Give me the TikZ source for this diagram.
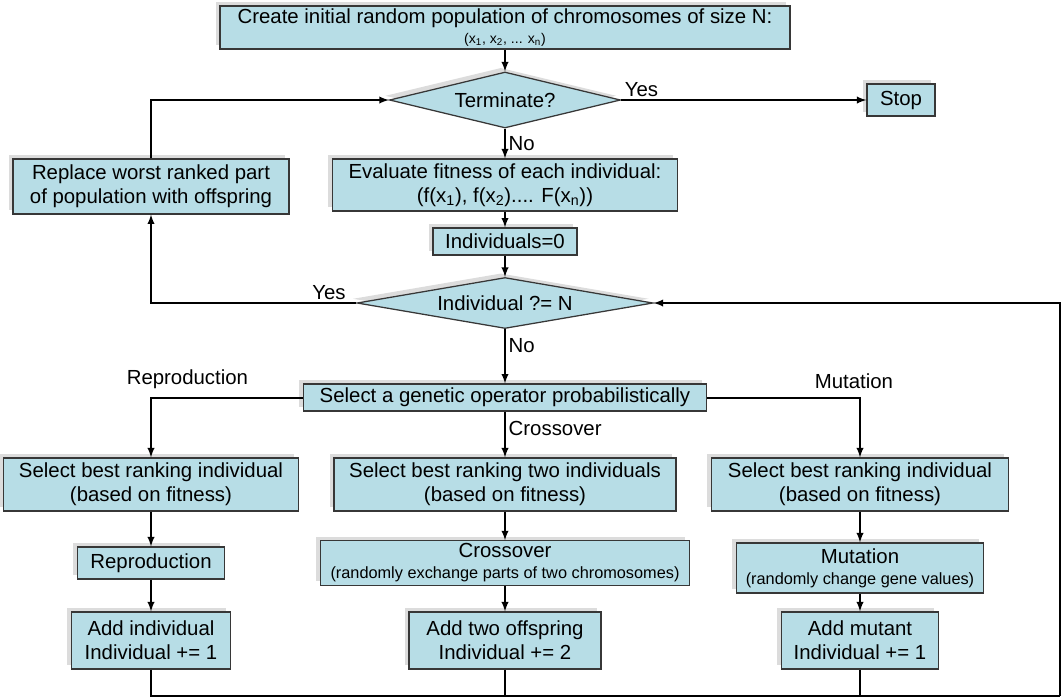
\documentclass[tikz,border=0pt]{standalone}
\usepackage{fontspec}
\setmainfont{Liberation Sans}
\usepackage{tikz}
\usetikzlibrary{arrows,shapes.geometric,shadows}
\definecolor{gafill}{RGB}{183,221,230}
\definecolor{gaedge}{RGB}{55,55,55}

\begin{document}
\begin{tikzpicture}[>=latex,
	  process/.style={draw=gaedge,fill=gafill,line width=0.9pt,align=center,inner sep=2pt,
	    font=\fontsize{14.5}{17}\selectfont,
	    drop shadow={shadow xshift=-3pt,shadow yshift=3pt,fill=black!30,opacity=0.45}},
	  decision/.style={process,diamond,aspect=4,inner sep=0pt},
	  arrowline/.style={line width=1.3pt,->},
	  edgelabel/.style={font=\fontsize{14.5}{17}\selectfont,inner sep=2pt},
	  ]
	  \path[use as bounding box] (0,0) rectangle (26.55,-17.45);
	  % main column
	  \node[process,minimum width=14.25cm,minimum height=1.075cm] (init) at (12.625,-0.69)
	    {Create initial random population of chromosomes of size N:\\[-3pt]
	     {\fontsize{10}{11}\selectfont (x\textsubscript{1}, x\textsubscript{2}, ... x\textsubscript{n})}};
	  \node[decision,minimum width=5.775cm,minimum height=1.4cm] (term) at (12.625,-2.5) {Terminate?};
	  \node[process,minimum width=1.7cm,minimum height=0.8cm] (stop) at (22.525,-2.5) {Stop};
	  \node[process,minimum width=6.9cm,minimum height=1.375cm] (replace) at (3.775,-4.66)
	    {Replace worst ranked part\\of population with offspring};
	  \node[process,minimum width=8.625cm,minimum height=1.3cm] (eval) at (12.625,-4.625)
	    {Evaluate fitness of each individual:\\(f(x\textsubscript{1}), f(x\textsubscript{2}).... F(x\textsubscript{n}))};
	  \node[process,minimum width=3.6cm,minimum height=0.675cm] (zero) at (12.625,-6.04) {Individuals=0};
	  \node[decision,aspect=6,minimum width=7.4cm,minimum height=1.275cm] (check) at (12.625,-7.575) {Individual ?= N};
	  \node[process,minimum width=10.075cm,minimum height=0.675cm] (oper) at (12.625,-9.94)
	    {Select a genetic operator probabilistically};
	  % three operators
	  \node[process,minimum width=7.375cm,minimum height=1.325cm] (selL) at (3.775,-12.1125)
	    {Select best ranking individual\\(based on fitness)};
	  \node[process,minimum width=8.55cm,minimum height=1.325cm] (selM) at (12.625,-12.1125)
	    {Select best ranking two individuals\\(based on fitness)};
	  \node[process,minimum width=7.425cm,minimum height=1.325cm] (selR) at (21.5,-12.1125)
	    {Select best ranking individual\\(based on fitness)};
	  \node[process,minimum width=3.675cm,minimum height=0.8cm] (repro) at (3.775,-14.075) {Reproduction};
	  \node[process,minimum width=9.225cm,minimum height=1.1cm] (cross) at (12.625,-14.075)
	    {Crossover\\[-2pt]{\fontsize{11.6}{12.5}\selectfont (randomly exchange parts of two chromosomes)}};
	  \node[process,minimum width=6.175cm,minimum height=1.25cm] (mut) at (21.5,-14.2)
	    {Mutation\\[-2pt]{\fontsize{11.6}{12.5}\selectfont (randomly change gene values)}};
	  \node[process,minimum width=3.975cm,minimum height=1.425cm] (addL) at (3.775,-16.0125)
	    {Add individual\\Individual += 1};
	  \node[process,minimum width=4.8cm,minimum height=1.425cm] (addM) at (12.625,-16.0125)
	    {Add two offspring\\Individual += 2};
	  \node[process,minimum width=3.925cm,minimum height=1.425cm] (addR) at (21.5,-16.0125)
	    {Add mutant\\Individual += 1};
	  \coordinate (loopend) at (26.5,-17.4);
	  % connectors
	  \draw[arrowline] (init) -- (term);
	  \draw[arrowline] (term) -- node[edgelabel,pos=0,anchor=south west]{Yes} (stop);
	  \draw[arrowline] (term) -- node[edgelabel,right]{No} (eval);
	  \draw[arrowline] (eval) -- (zero);
	  \draw[arrowline] (zero) -- (check);
	  \draw[arrowline] (check) -| node[edgelabel,pos=0,anchor=south east,xshift=-5pt]{Yes} (replace);
	  \draw[arrowline] (replace) |- (term);
	  \draw[arrowline] (check) -- node[edgelabel,right,pos=0.3]{No} (oper);
	  \draw[arrowline] (oper) -| node[edgelabel,pos=0.38,above,yshift=4pt]{Reproduction} (selL);
	  \draw[arrowline] (oper) -- node[edgelabel,right,pos=0.36]{Crossover} (selM);
	  \draw[arrowline] (oper) -| node[edgelabel,pos=0.48,above,yshift=4pt]{Mutation} (selR);
	  \draw[arrowline] (selL) -- (repro);
	  \draw[arrowline] (selM) -- (cross);
	  \draw[arrowline] (selR) -- (mut);
	  \draw[arrowline] (repro) -- (addL);
	  \draw[arrowline] (cross) -- (addM);
	  \draw[arrowline] (mut) -- (addR);
	  \draw[line width=1.3pt] (addL) -- (addL |- loopend) -- (loopend);
	  \draw[line width=1.3pt] (addM) -- (addM |- loopend);
	  \draw[line width=1.3pt] (addR) -- (addR |- loopend);
	  \draw[arrowline] (loopend) |- (check);
\end{tikzpicture}
\end{document}
